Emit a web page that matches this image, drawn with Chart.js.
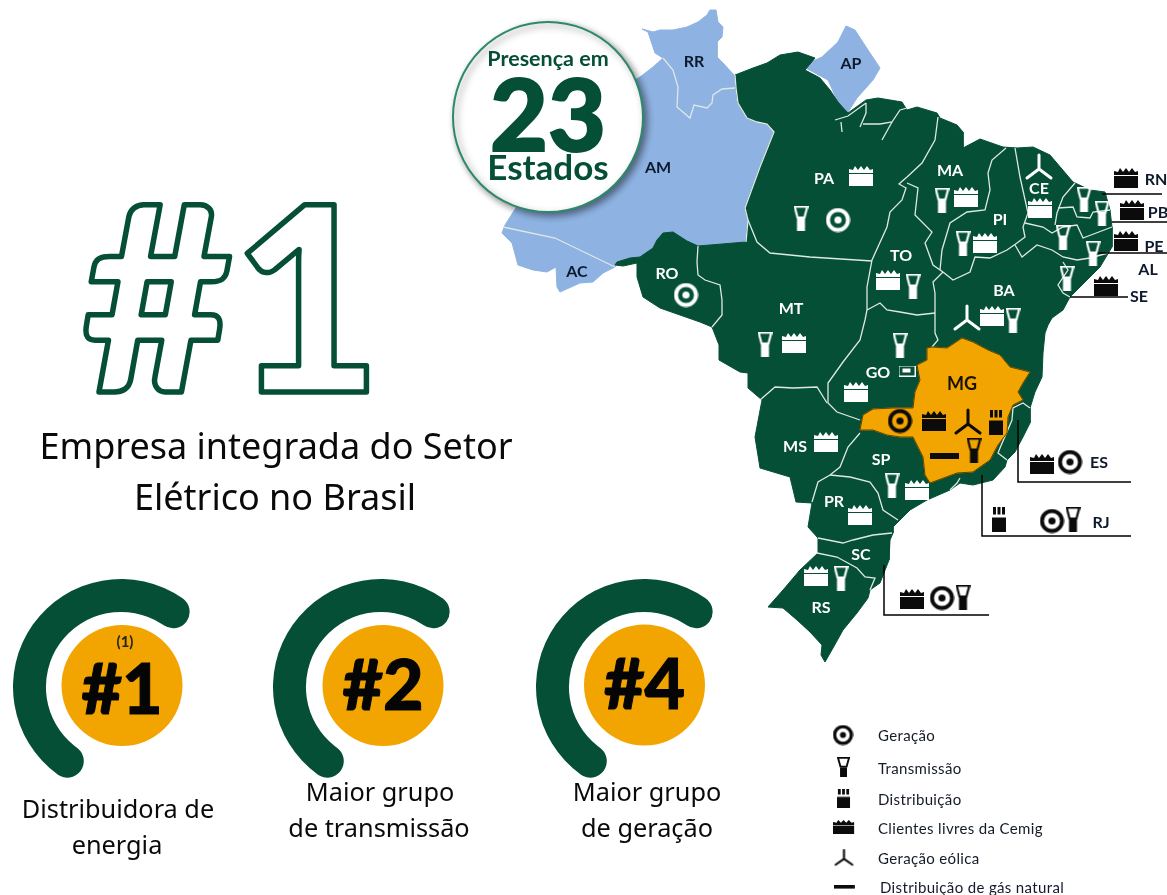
<!DOCTYPE html>
<html>
<head>
<meta charset="utf-8">
<script src="https://cdn.jsdelivr.net/npm/chart.js@4"></script>
<style>
html,body{margin:0;padding:0;background:#fff;overflow:hidden}
#page{position:relative;width:1167px;height:895px;overflow:hidden}
#page canvas{position:absolute}
.t{position:absolute;white-space:nowrap;transform:translate(-50%,-50%);line-height:1}
svg{position:absolute;left:0;top:0}
</style>
</head>
<body>
<div id="page">
<canvas id="mapa" width="1167" height="895" style="left:0;top:0"></canvas>
</div>
<script>
// mapa, tracado a mao a partir da imagem
var azul = [[710,10],[716,10],[718,22],[723,27],[722,37],[717,42],[717,57],[723,63],[734,75],[736,88],[738,103],[747,118],[757,122],[767,124],[774,132],[760,167],[745,208],[748,220],[746,242],[698,246],[687,241],[673,232],[663,233],[657,240],[653,248],[640,257],[630,258],[617,262],[615,267],[603,273],[593,282],[580,283],[560,292],[557,287],[556,267],[547,272],[533,270],[518,265],[512,243],[502,233],[505,225],[540,170],[600,100],[640,77],[653,67],[663,58],[655,53],[648,32],[642,29],[653,32],[660,30],[673,30],[687,27],[698,22],[707,15]];
var amapa = [[802,66],[822,57],[838,42],[846,26],[855,30],[868,50],[880,68],[873,80],[857,98],[848,112],[837,100],[828,80]];
var verde = [[735,75],[753,68],[767,63],[780,55],[798,52],[815,58],[805,70],[820,78],[830,90],[838,102],[848,113],[866,100],[878,98],[902,102],[907,110],[917,107],[937,113],[940,118],[957,125],[963,132],[963,148],[980,139],[1003,147],[1017,148],[1033,147],[1050,155],[1073,182],[1090,190],[1105,192],[1110,210],[1112,227],[1112,247],[1100,267],[1087,280],[1070,297],[1063,310],[1052,318],[1048,325],[1045,333],[1043,353],[1042,377],[1035,392],[1030,408],[1030,423],[1023,437],[1015,452],[1007,460],[1005,467],[993,480],[973,485],[960,483],[950,490],[927,500],[910,510],[900,520],[893,527],[893,533],[890,540],[889,560],[880,583],[870,590],[868,598],[857,613],[843,630],[833,648],[825,662],[821,655],[822,645],[810,632],[797,620],[783,608],[768,607],[783,590],[800,570],[818,553],[818,538],[808,527],[812,503],[796,502],[790,477],[760,468],[755,437],[762,400],[748,388],[748,373],[740,372],[719,360],[719,345],[712,327],[700,322],[680,315],[660,308],[643,297],[637,277],[637,263],[623,266],[615,265],[617,262],[630,258],[640,257],[653,248],[657,240],[663,233],[673,232],[687,241],[698,246],[746,242],[748,220],[745,208],[760,167],[774,132],[767,124],[757,122],[747,118],[738,103],[736,88]];
var minas = [[932,347],[947,348],[962,338],[973,342],[988,350],[1000,355],[1010,367],[1030,372],[1023,383],[1018,392],[1023,400],[1013,405],[1008,417],[1007,433],[998,445],[990,460],[973,472],[957,473],[930,483],[925,475],[923,457],[917,445],[913,437],[900,437],[887,435],[873,430],[860,430],[863,415],[873,409],[893,408],[913,408],[915,392],[920,380],[917,365],[927,360],[927,348]];

// divisas entre estados
var divisas = [
  [[663,58],[673,70],[678,87],[677,107],[690,118],[694,105],[707,108],[712,103],[713,95],[722,89],[735,88]],
  [[503,227],[555,238],[615,267]],
  [[698,246],[697,262],[698,275],[705,280],[720,285],[722,300],[722,315],[712,327]],
  [[735,75],[736,88],[738,103],[747,118],[757,122],[767,124],[774,132],[760,167],[745,208],[748,220],[746,242]],
  [[748,220],[757,242],[770,253],[810,257],[872,261]],
  [[938,117],[935,140],[922,163],[907,177],[899,184],[906,188],[902,200],[890,212],[887,227],[872,260],[867,287],[867,310],[865,320],[860,340],[843,362],[828,383],[828,403],[837,412],[860,420]],
  [[760,400],[775,387],[793,388],[817,387],[827,403]],
  [[860,433],[848,447],[840,467],[830,475],[818,482],[812,502]],
  [[830,475],[850,477],[870,482],[878,493],[883,510],[898,520]],
  [[818,538],[843,543],[853,540],[873,535],[892,533]],
  [[817,553],[837,557],[857,568],[865,577],[875,578],[870,590]],
  [[867,310],[880,303],[887,310],[900,312],[917,315],[935,313]],
  [[943,272],[933,282],[935,293],[935,313],[935,333],[938,340],[932,347]],
  [[907,183],[918,188],[915,215],[932,232],[925,243],[933,265],[943,272]],
  [[1006,148],[992,160],[988,173],[990,190],[985,210],[967,212],[950,223],[942,250],[940,270]],
  [[943,272],[953,280],[970,272],[975,257],[990,258],[1007,250],[1017,243]],
  [[1015,148],[1020,177],[1028,213],[1023,227],[1025,237],[1017,243]],
  [[1075,183],[1063,197],[1057,213],[1055,225]],
  [[1058,208],[1073,207],[1077,217],[1090,218],[1093,212],[1110,210]],
  [[1025,223],[1043,227],[1052,233],[1063,227],[1077,225],[1083,238],[1112,227]],
  [[1015,245],[1022,257],[1037,245],[1052,250],[1063,257],[1077,260],[1090,258],[1108,253]],
  [[1063,262],[1068,270],[1058,285],[1063,293],[1070,297]],
  [[1030,408],[1023,403],[1013,408],[1012,420],[1000,448],[998,453],[1007,460]],
  [[960,478],[957,483],[950,490]],
  // delta do Amazonas e ilha de Marajo
  [[835,120],[848,116],[866,103]],
  [[866,103],[866,113],[860,127]],
  [[863,124],[880,124],[892,122],[900,110],[907,108]],
  [[882,140],[892,122]],
  [[842,132],[841,122]]
];

// linhas de chamada
var chamadas = [
  [[1102,194],[1162,194]],
  [[1112,222],[1167,222]],
  [[1095,253],[1167,253]],
  [[1070,297],[1128,297]],
  [[1018,420],[1018,482],[1131,482]],
  [[982,475],[982,536],[1131,536]],
  [[884,565],[884,615],[989,615]]
];

// icones
var geracaoBranco = [[686,295],[838,220]];
var geracaoPreto = [[900,421],[1070,462],[1052,521],[942,598]];
var transmissaoBranco = [[801,218],[1084,199],[1102,213],[1063,237],[1093,253],[1067,278],[942,200],[963,243],[913,286],[1013,320],[900,345],[765,344],[892,485],[841,578]];
var transmissaoPreto = [[974,450],[1073,519],[963,597]];
var clientesBranco = [[861,176],[966,197],[1040,208],[985,243],[888,280],[992,316],[794,343],[856,392],[826,442],[917,490],[860,515],[816,576]];
var clientesPreto = [[1126,178],[1132,210],[1126,241],[1106,286],[934,421],[1042,464],[912,599]];
var eolicaBranco = [[1039,167],[967,318]];
var eolicaPreto = [[968,422]];
var distribuicaoPreto = [[996,422],[999,519]];
var gasPreto = [[944,456]];
var gasGoias = [[907,371]];

// legenda
var legendaTextos = ['Geração','Transmissão','Distribuição','Clientes livres da Cemig','Geração eólica','Distribuição de gás natural'];
var legendaY = [735,768,799,828,858,887];

// siglas dos estados
var siglas = ['RR','AP','AM','AC','RO','PA','MA','CE','PI','TO','MT','BA','GO','MG','MS','SP','PR','SC','RS','RN','PB','PE','AL','SE','ES','RJ'];
var siglasX = [694,851,658,577,667,824,950,1039,1000,901,791,1004,878,962,795,881,834,861,821,1156,1158,1154,1148,1139,1099,1101];
var siglasY = [60,62,166,270,272,177,169,187,218,254,307,289,371,383,445,458,500,553,606,178,211,245,268,295,461,521];
var siglasBrancas = ['RO','PA','MA','CE','PI','TO','MT','BA','GO','MS','SP','PR','SC','RS'];

// rankings
var rankings = ['#1','#2','#4'];
var rankX = [122,383,644.5];
var rankY = [685.5,685.5,685];
var arcoCheio = [55.4,55.4,55.4];
var arcoVazio = [44.6,44.6,44.6];
var arcoX = [121,381,644];
var arcoY = [687,687,687];

var VERDE = '#044f35', LARANJA = '#f2a500', AZUL = '#8eb2e2', DIVISA = '#dfe8e4';

function icone(tipo, cor, sx, sy) {
  var c = document.createElement('canvas'), g;
  var tam = {geracao:[25,25],transmissao:[15,25],clientes:[24,20],eolica:[30,28],distribuicao:[14,25],gas:[29,6],envelope:[17,11]}[tipo];
  sx = sx || 1; sy = sy || sx;
  c.width = Math.ceil(tam[0]*sx); c.height = Math.ceil(tam[1]*sy);
  g = c.getContext('2d');
  g.scale(sx, sy);
  g.fillStyle = cor; g.strokeStyle = cor;
  if (tipo == 'geracao') {
    g.lineWidth = 4;
    g.beginPath(); g.arc(12.5,12.5,10,0,Math.PI*2); g.stroke();
    g.beginPath(); g.arc(12.5,12.5,3.6,0,Math.PI*2); g.fill();
  } else if (tipo == 'transmissao') {
    g.lineWidth = 2.2;
    g.beginPath(); g.moveTo(1.2,1.2); g.lineTo(13.8,1.2); g.lineTo(11,12); g.lineTo(4,12); g.closePath(); g.stroke();
    g.fillRect(3.5,13,8,12);
  } else if (tipo == 'clientes') {
    g.beginPath(); g.moveTo(0,7); g.lineTo(0,3); g.lineTo(4,4); g.lineTo(6,0); g.lineTo(9,4); g.lineTo(12,0); g.lineTo(15,4); g.lineTo(18,0); g.lineTo(21,4); g.lineTo(24,3); g.lineTo(24,7); g.closePath(); g.fill();
    g.fillRect(0,8,24,12);
  } else if (tipo == 'eolica') {
    g.lineWidth = 3; g.lineCap = 'round';
    g.beginPath(); g.moveTo(15,16); g.lineTo(15,2); g.moveTo(15,16); g.lineTo(3,25); g.moveTo(15,16); g.lineTo(27,25); g.stroke();
  } else if (tipo == 'distribuicao') {
    g.fillRect(1,0,3,8); g.fillRect(5.5,0,3,8); g.fillRect(10,0,3,8);
    g.fillRect(0,11,14,14);
  } else if (tipo == 'gas') {
    g.fillRect(0,0,29,6);
  } else {
    g.lineWidth = 1; g.strokeRect(.5,.5,16,10); g.fillRect(4,3,8,4);
  }
  return c;
}

function pontos(a) { return a.map(function(p){ return {x:p[0], y:p[1]}; }); }

var datasets = [];
function poligono(a, cor) {
  datasets.push({data:pontos(a.concat([a[0]])), showLine:true, fill:'shape', backgroundColor:cor, borderColor:cor, borderWidth:1, pointRadius:0, tension:0});
}
function linha(a, cor, esp) {
  datasets.push({data:pontos(a), showLine:true, fill:false, borderColor:cor, borderWidth:esp, pointRadius:0, tension:0});
}
function simbolos(a, tipo, cor, sx, sy) {
  datasets.push({data:pontos(a), showLine:false, pointStyle:icone(tipo,cor,sx,sy), pointRadius:5});
}

poligono(azul, AZUL);
poligono(amapa, AZUL);
poligono(verde, VERDE);
divisas.forEach(function(d){ linha(d, DIVISA, 1.3); });
poligono(minas, LARANJA);
linha(minas.concat([minas[0]]), '#3a2a00', .8);
chamadas.forEach(function(d){ linha(d, '#000', 1.5); });

simbolos(geracaoBranco,'geracao','#fff');
simbolos(geracaoPreto,'geracao','#0b0b0b');
simbolos(transmissaoBranco,'transmissao','#fff');
simbolos(transmissaoPreto,'transmissao','#0b0b0b');
simbolos(clientesBranco,'clientes','#fff');
simbolos(clientesPreto,'clientes','#0b0b0b');
simbolos(eolicaBranco,'eolica','#fff');
simbolos(eolicaPreto,'eolica','#0b0b0b');
simbolos(distribuicaoPreto,'distribuicao','#0b0b0b');
simbolos(gasPreto,'gas','#0b0b0b');
simbolos(gasGoias,'envelope','#fff');

// icones da legenda
simbolos([[843,735]],'geracao','#0b0b0b',.84);
simbolos([[844,767]],'transmissao','#0b0b0b',.87,.8);
simbolos([[844,798]],'distribuicao','#0b0b0b',.93,.76);
simbolos([[844,827]],'clientes','#0b0b0b',.88,.7);
simbolos([[844,858]],'eolica','#0b0b0b',.7,.65);
simbolos([[844,887]],'gas','#0b0b0b',.72,.6);

// circulo do "Presenca em" e discos dos rankings
var indiceCirculo = datasets.length;
datasets.push({data:[{x:548,y:117}], showLine:false, pointStyle:'circle', pointRadius:95, backgroundColor:'#fff', borderColor:'#2c8a69', borderWidth:2});
datasets.push({data:rankX.map(function(x,i){ return {x:x, y:rankY[i]}; }), showLine:false, pointStyle:'circle', pointRadius:60.5, backgroundColor:LARANJA, borderWidth:0});

var total = datasets.length;
datasets.reverse(); // o Chart.js desenha o primeiro por cima

var sombra = {
  id:'sombra',
  beforeDatasetDraw:function(chart, args) {
    if (args.index == total-1-indiceCirculo) {
      chart.ctx.save();
      chart.ctx.shadowColor = 'rgba(0,0,0,.45)';
      chart.ctx.shadowBlur = 7;
      chart.ctx.shadowOffsetX = 3;
      chart.ctx.shadowOffsetY = 3;
    }
  },
  afterDatasetDraw:function(chart, args) {
    if (args.index == total-1-indiceCirculo) chart.ctx.restore();
  }
};

new Chart(document.getElementById('mapa').getContext('2d'), {
  type:'scatter',
  data:{datasets:datasets},
  plugins:[sombra],
  options:{
    responsive:false,
    animation:false,
    layout:{padding:0, autoPadding:false},
    events:[],
    clip:false,
    scales:{
      x:{type:'linear', min:0, max:1167, display:false},
      y:{type:'linear', min:0, max:895, reverse:true, display:false}
    },
    plugins:{legend:{display:false}, tooltip:{enabled:false}}
  }
});

// arcos dos rankings
var page = document.getElementById('page');
rankings.forEach(function(r,i) {
  var cv = document.createElement('canvas');
  cv.width = 216; cv.height = 216;
  cv.style.left = (arcoX[i]-108)+'px';
  cv.style.top = (arcoY[i]-108)+'px';
  page.appendChild(cv);
  new Chart(cv.getContext('2d'), {
    type:'doughnut',
    data:{labels:['cheio','vazio'], datasets:[{
      data:[arcoCheio[i], arcoVazio[i]],
      backgroundColor:[VERDE,'rgba(0,0,0,0)'],
      borderWidth:0,
      borderRadius:[16.5,0]
    }]},
    options:{
      responsive:false, animation:false, events:[],
      rotation:205.6, circumference:360, cutout:'69.5%',
      plugins:{legend:{display:false}, tooltip:{enabled:false}}
    }
  });
});

// textos
function texto(s, x, y, css) {
  var d = document.createElement('div');
  d.className = 't';
  d.textContent = s;
  d.style.left = x+'px';
  d.style.top = y+'px';
  d.style.cssText += css;
  page.appendChild(d);
  return d;
}
siglas.forEach(function(s,i) {
  var cor = siglasBrancas.indexOf(s) >= 0 ? '#fff' : (s == 'MG' ? '#1a1200' : '#0d1a2e');
  texto(s, siglasX[i], siglasY[i], 'font:700 '+(s=='MG'?18:16)+'px Lato;color:'+cor);
});
texto('Presença em',548,58,'font:700 21.5px Lato;color:'+VERDE);
texto('23',548,112,'font:900 100px Lato;color:'+VERDE+';-webkit-text-stroke:2px '+VERDE);
texto('Estados',548,166,'font:700 35px Lato;color:'+VERDE);

texto('Empresa integrada do Setor',276,445,'font:400 36px "Noto Sans";color:#0a0a0a');
texto('Elétrico no Brasil',275,496,'font:400 36px "Noto Sans";color:#0a0a0a');

texto('(1)',125,641,'font:700 15px Lato;color:#222');
rankings.forEach(function(r,i) {
  texto(r, rankX[i], rankY[i]+(i==0?1:-3), 'font:900 70px Lato;color:#050505;-webkit-text-stroke:1px #050505');
});
var legenda = 'font:400 25.3px "Noto Sans";color:#0a0a0a';
texto('Distribuidora de',118,808,legenda);
texto('energia',117,844,legenda);
texto('Maior grupo',380,791,legenda);
texto('de transmissão',379,827,legenda);
texto('Maior grupo',647,791,legenda);
texto('de geração',647,827,legenda);

legendaTextos.forEach(function(s,i) {
  var d = texto(s, i==5?880:878, legendaY[i], 'font:400 15px Lato;letter-spacing:.35px;color:#141a2a');
  d.style.transform = 'translate(0,-50%)';
});

// "#1" grande, so o contorno
var ns = 'http://www.w3.org/2000/svg';
var svg = document.createElementNS(ns,'svg');
svg.setAttribute('width','1167'); svg.setAttribute('height','895');
var tx = document.createElementNS(ns,'text');
tx.textContent = '#1';
tx.setAttribute('x','232'); tx.setAttribute('y','392');
tx.setAttribute('text-anchor','middle');
tx.setAttribute('style','font:900 258px Lato;fill:#fff;stroke:'+VERDE+';stroke-width:5.5;stroke-linejoin:round');
svg.appendChild(tx);
page.appendChild(svg);
</script>
</body>
</html>
